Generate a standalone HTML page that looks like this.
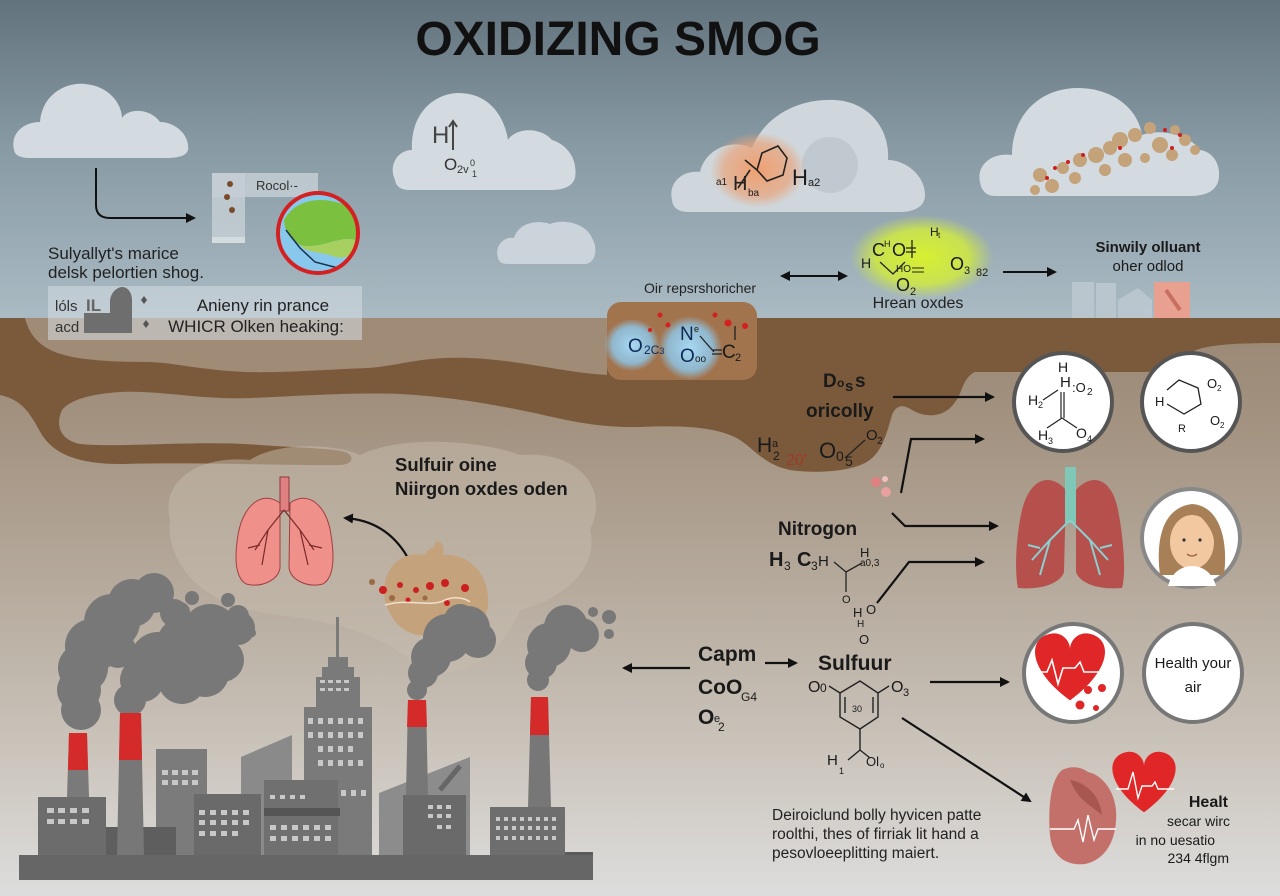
<!DOCTYPE html>
<html><head><meta charset="utf-8"><style>
html,body{margin:0;padding:0;width:1280px;height:896px;overflow:hidden;background:#aaa}
svg{display:block}
text{font-family:"Liberation Sans",Arial,sans-serif;fill:#1a1a1a}
.b{font-weight:bold}
</style></head><body>
<svg width="1280" height="896" viewBox="0 0 1280 896" xmlns="http://www.w3.org/2000/svg">
<defs>
<linearGradient id="sky" x1="0" y1="0" x2="0" y2="1">
<stop offset="0" stop-color="#62737d"/><stop offset="0.45" stop-color="#8799a3"/><stop offset="1" stop-color="#aabbc4"/>
</linearGradient>
<linearGradient id="gnd" x1="0" y1="0" x2="0" y2="1">
<stop offset="0" stop-color="#9a8774"/><stop offset="0.18" stop-color="#a39280"/><stop offset="0.5" stop-color="#b8ada0"/><stop offset="0.78" stop-color="#cdc7bf"/><stop offset="1" stop-color="#dddddd"/>
</linearGradient>
<radialGradient id="org" cx="0.5" cy="0.5" r="0.5"><stop offset="0" stop-color="#f0a070"/><stop offset="0.7" stop-color="#e8a47c" stop-opacity="0.7"/><stop offset="1" stop-color="#e8a47c" stop-opacity="0"/></radialGradient>
<radialGradient id="ylw" cx="0.5" cy="0.5" r="0.5"><stop offset="0" stop-color="#d8f030"/><stop offset="0.65" stop-color="#d0ea40" stop-opacity="0.85"/><stop offset="1" stop-color="#c8e050" stop-opacity="0"/></radialGradient>
<radialGradient id="blu" cx="0.5" cy="0.5" r="0.5"><stop offset="0" stop-color="#a8d8f4"/><stop offset="0.7" stop-color="#8cc8ec" stop-opacity="0.8"/><stop offset="1" stop-color="#8cc8ec" stop-opacity="0"/></radialGradient>
<marker id="ah" markerWidth="10" markerHeight="10" refX="8" refY="5" orient="auto" markerUnits="userSpaceOnUse"><path d="M0,0 L10,5 L0,10 Z" fill="#111"/></marker>
<marker id="ah2" markerWidth="10" markerHeight="10" refX="8" refY="5" orient="auto-start-reverse" markerUnits="userSpaceOnUse"><path d="M0,0 L10,5 L0,10 Z" fill="#111"/></marker>
</defs>

<!-- backgrounds -->
<rect x="0" y="0" width="1280" height="320" fill="url(#sky)"/>
<rect x="0" y="318" width="1280" height="578" fill="url(#gnd)"/>

<!-- brown band -->
<path d="M0,318 H1280 V343 C1215,343 1192,347 1186,358 C1180,370 1165,372 1140,372 L975,372 C962,378 962,395 955,402 C945,418 925,418 912,410 C903,404 896,405 892,415 C885,440 880,455 865,463 C845,473 810,473 790,470 C765,465 755,450 740,440 C720,428 690,425 640,427 C590,428 560,418 520,410 C480,402 440,396 400,394 C350,392 300,396 250,398 C200,400 160,390 120,392 C90,394 70,400 62,410 C55,425 60,440 80,444 C120,448 200,440 260,445 C300,448 330,448 345,452 C356,456 352,465 340,465 C300,466 200,462 120,464 C80,464 55,455 42,435 C32,418 25,400 0,395 Z" fill="#7b5a3c"/>
<path d="M25,318 H607 V375 C560,372 520,360 470,358 C420,356 400,366 367,368 C320,370 280,373 245,372 C200,370 170,362 147,362 C110,362 75,360 55,352 C35,344 28,330 25,318 Z" fill="#a08b76"/>
<!-- haze cloud behind lungs -->
<path d="M170,520 C160,480 200,455 250,460 C280,440 340,445 360,455 C400,435 480,440 520,455 C580,450 610,490 590,530 C600,570 560,600 520,610 C500,660 450,690 410,660 C360,620 300,620 250,610 C200,600 165,560 170,520 Z" fill="#c6bbae" opacity="0.5"/>

<!-- title -->
<text x="618" y="55" text-anchor="middle" class="b" font-size="48" style="fill:#111">OXIDIZING SMOG</text>

<!-- clouds -->
<g fill="#d3dbe0">
<path d="M14,150 C10,132 25,122 40,122 C42,95 65,82 85,84 C110,86 122,105 122,118 C128,108 150,108 160,122 C175,122 190,135 188,150 C186,157 175,158 165,158 H30 C20,158 15,155 14,150 Z"/>
<path d="M395,180 C388,165 398,150 412,150 C410,118 430,94 458,93 C492,93 505,120 508,140 C515,128 540,126 552,140 C568,145 578,160 575,178 C572,188 560,190 550,190 H410 C400,190 396,186 395,180 Z"/>
<path d="M498,258 C494,245 505,236 514,238 C518,224 535,219 550,224 C562,219 585,222 592,238 C598,248 596,262 586,264 H508 C502,264 499,262 498,258 Z" fill="#cbd4da"/>
<path d="M672,200 C668,183 682,170 700,172 C705,150 730,138 752,148 C765,115 800,98 835,100 C870,102 890,130 888,160 C905,160 925,175 925,195 C925,208 912,212 900,212 H690 C678,212 673,208 672,200 Z" fill="#cfd7dc"/>
<path d="M980,182 C976,165 992,152 1012,155 C1012,115 1040,88 1078,88 C1112,88 1138,108 1142,135 C1160,128 1190,135 1200,150 C1215,152 1222,168 1218,182 C1214,194 1200,196 1190,196 H995 C986,196 981,190 980,182 Z"/>
</g>
<!-- cloud 2 contents -->
<text x="432" y="143" font-size="24" style="fill:#444">H</text>
<path d="M453,150 V122 M449,127 L453,121 L457,127" stroke="#444" stroke-width="2" fill="none"/>
<text x="444" y="170" font-size="17" style="fill:#333">O</text><text x="457" y="173" font-size="11" style="fill:#333">2v</text><text x="470" y="166" font-size="9" style="fill:#333">0</text><text x="472" y="177" font-size="9" style="fill:#333">1</text>
<!-- benzene cloud -->
<ellipse cx="758" cy="170" rx="48" ry="38" fill="url(#org)"/>
<circle cx="830" cy="165" r="28" fill="#b6c0c6" opacity="0.6"/>
<g stroke="#222" stroke-width="1.6" fill="none">
<path d="M762,153 L778,146 L787,158 L783,175 L767,181 L757,170 Z"/>
<path d="M750,170 L738,188 M745,160 L757,170"/>
</g>
<text x="733" y="190" font-size="20" style="fill:#222">H</text><text x="748" y="196" font-size="10">ba</text>
<text x="716" y="185" font-size="10">a1</text>
<text x="792" y="185" font-size="22">H</text><text x="808" y="186" font-size="11">a2</text>
<!-- particle cloud -->
<g fill="#c4a27a">
<circle cx="1040" cy="175" r="7"/><circle cx="1052" cy="186" r="7"/><circle cx="1063" cy="168" r="6"/><circle cx="1080" cy="160" r="7"/><circle cx="1096" cy="155" r="8"/><circle cx="1110" cy="148" r="7"/><circle cx="1120" cy="140" r="8"/><circle cx="1135" cy="135" r="7"/><circle cx="1150" cy="128" r="6"/><circle cx="1175" cy="130" r="5"/><circle cx="1185" cy="140" r="6"/><circle cx="1195" cy="150" r="5"/><circle cx="1105" cy="170" r="6"/><circle cx="1125" cy="160" r="7"/><circle cx="1160" cy="145" r="8"/><circle cx="1172" cy="155" r="6"/><circle cx="1145" cy="158" r="5"/><circle cx="1075" cy="178" r="6"/><circle cx="1035" cy="190" r="5"/>
</g>
<g fill="#cc2020"><circle cx="1055" cy="168" r="2"/><circle cx="1068" cy="162" r="2"/><circle cx="1083" cy="155" r="2"/><circle cx="1120" cy="148" r="2"/><circle cx="1165" cy="130" r="2"/><circle cx="1172" cy="148" r="2"/><circle cx="1180" cy="135" r="2"/><circle cx="1047" cy="178" r="2"/></g>

<!-- top-left arrow and panel -->
<path d="M96,168 V205 Q96,218 110,218 H194" stroke="#111" stroke-width="2" fill="none" marker-end="url(#ah)"/>
<rect x="212" y="173" width="106" height="24" fill="#c4ced4" opacity="0.85"/>
<rect x="212" y="173" width="33" height="70" fill="#c4ced4" opacity="0.85"/>
<rect x="212" y="237" width="33" height="6" fill="#d4dce0"/>
<text x="256" y="190" font-size="13" style="fill:#333">Rocol·-</text>
<circle cx="230" cy="184" r="3" fill="#7a4a2a"/><circle cx="227" cy="197" r="3" fill="#7a4a2a"/><circle cx="232" cy="210" r="3" fill="#7a4a2a"/>
<!-- red globe -->
<circle cx="318" cy="233" r="40" fill="#88c8ec"/>
<path d="M284,220 C295,200 320,195 345,205 C358,215 360,230 355,240 C340,235 320,250 300,245 C292,240 285,235 284,220 Z" fill="#7cc040"/>
<path d="M300,245 C320,250 340,235 355,240 C356,255 345,262 330,255 C318,252 305,252 300,245 Z" fill="#a8d060"/>
<path d="M286,230 L300,248 L315,262 L338,268" stroke="#1a3050" stroke-width="1.5" fill="none"/>
<circle cx="318" cy="233" r="40" fill="none" stroke="#d42020" stroke-width="4"/>

<text x="48" y="259" font-size="17" style="fill:#222">Sulyallyt's marice</text>
<text x="48" y="278" font-size="17" style="fill:#222">delsk pelortien shog.</text>
<rect x="48" y="286" width="314" height="54" fill="#d6dde1" opacity="0.55"/>
<text x="55" y="311" font-size="15" style="fill:#333">lóls</text>
<text x="55" y="332" font-size="15" style="fill:#333">acd</text>
<text x="86" y="311" class="b" font-size="17" style="fill:#666">IL</text>
<path d="M84,313 H110 V302 C110,292 118,287 122,287 C128,287 132,293 132,300 V333 H84 Z" fill="#6e6e6e"/>
<path d="M144,296 l3,4 -3,4 -3,-4 z M146,320 l3,4 -3,4 -3,-4 z" fill="#555"/>
<text x="263" y="311" text-anchor="middle" font-size="17" style="fill:#222">Anieny rin prance</text>
<text x="256" y="332" text-anchor="middle" font-size="17" style="fill:#222">WHICR Olken heaking:</text>

<!-- molecule blob center -->
<rect x="607" y="302" width="150" height="78" rx="14" fill="#a2744e"/>
<ellipse cx="632" cy="345" rx="28" ry="26" fill="url(#blu)"/>
<ellipse cx="690" cy="348" rx="32" ry="32" fill="url(#blu)"/>
<g fill="#d42020"><circle cx="660" cy="315" r="2.5"/><circle cx="668" cy="325" r="2.5"/><circle cx="715" cy="315" r="2.5"/><circle cx="728" cy="323" r="3.5"/><circle cx="745" cy="326" r="3"/><circle cx="650" cy="330" r="2"/></g>
<text x="628" y="352" font-size="19" style="fill:#0d2a55">O</text><text x="644" y="354" font-size="12" style="fill:#0d2a55">2C<tspan font-size="9">3</tspan></text>
<text x="680" y="340" font-size="19" style="fill:#0d2a55">N</text><text x="694" y="332" font-size="9">e</text>
<text x="680" y="362" font-size="19" style="fill:#0d2a55">O</text><text x="695" y="362" font-size="10">oo</text>
<path d="M700,336 L714,352 M712,350 H722 M712,354 H722 M735,326 V340" stroke="#222" stroke-width="1.3"/>
<text x="722" y="358" font-size="19">C</text><text x="735" y="361" font-size="11">2</text>
<text x="700" y="293" text-anchor="middle" font-size="14" style="fill:#222">Oir repsrshoricher</text>

<!-- double arrow and yellow molecule -->
<line x1="782" y1="276" x2="846" y2="276" stroke="#111" stroke-width="2" marker-start="url(#ah2)" marker-end="url(#ah)"/>
<ellipse cx="922" cy="257" rx="72" ry="42" fill="url(#ylw)"/>
<text x="861" y="268" font-size="14">H</text><text x="872" y="256" font-size="18">C</text><text x="884" y="247" font-size="9">H</text>
<text x="892" y="256" font-size="18">O</text><path d="M906,248 H916 M906,252 H916 M912,240 V258 M880,262 L893,274 L905,262" stroke="#222" stroke-width="1.3" fill="none"/>
<text x="930" y="236" font-size="12">H</text><text x="938" y="238" font-size="8">t</text>
<text x="896" y="272" font-size="10">HO</text><path d="M912,268 H924 M912,272 H924" stroke="#222" stroke-width="1"/>
<text x="950" y="270" font-size="18">O</text><text x="964" y="274" font-size="11">3</text><text x="976" y="276" font-size="11">82</text>
<text x="896" y="291" font-size="18">O</text><text x="910" y="295" font-size="11">2</text>
<text x="918" y="308" text-anchor="middle" font-size="16" style="fill:#222">Hrean oxdes</text>
<line x1="1003" y1="272" x2="1055" y2="272" stroke="#111" stroke-width="2" marker-end="url(#ah)"/>
<text x="1148" y="252" text-anchor="middle" class="b" font-size="15">Sinwily olluant</text>
<text x="1148" y="271" text-anchor="middle" font-size="15">oher odlod</text>
<g fill="#bcc8cf" opacity="0.9">
<rect x="1072" y="282" width="22" height="36"/><rect x="1096" y="283" width="20" height="35"/><path d="M1118,318 V300 L1138,288 L1152,300 V318 Z"/>
</g>
<rect x="1154" y="282" width="36" height="36" fill="#e8a090"/>
<path d="M1166,290 L1180,310" stroke="#c87060" stroke-width="4"/>

<!-- right chem text -->
<text x="823" y="387" class="b" font-size="19">D</text><text x="837" y="387" class="b" font-size="12">o</text><text x="845" y="391" class="b" font-size="15">s</text><text x="855" y="387" class="b" font-size="19">s</text>
<text x="806" y="417" class="b" font-size="19">oricolly</text>
<text x="757" y="452" font-size="21">H</text><text x="772" y="447" font-size="11">a</text><text x="773" y="460" font-size="12">2</text>
<text x="786" y="465" font-size="16" style="fill:#a03a2a">20'</text>
<text x="819" y="458" font-size="22">O</text><text x="836" y="461" font-size="14">0</text><text x="845" y="466" font-size="14">5</text>
<path d="M845,458 L865,440" stroke="#222" stroke-width="1.3"/>
<text x="866" y="440" font-size="15">O</text><text x="877" y="444" font-size="10">2</text>
<line x1="893" y1="397" x2="993" y2="397" stroke="#111" stroke-width="2.2" marker-end="url(#ah)"/>
<path d="M901,493 L911,439 H983" stroke="#111" stroke-width="2.2" fill="none" marker-end="url(#ah)"/>
<circle cx="876" cy="482" r="5" fill="#e08080"/><circle cx="886" cy="492" r="5" fill="#e8a0a0"/><circle cx="885" cy="479" r="3" fill="#f0c0c0"/>
<path d="M892,513 L905,526 H997" stroke="#111" stroke-width="2.2" fill="none" marker-end="url(#ah)"/>
<text x="778" y="535" class="b" font-size="19">Nitrogon</text>
<text x="769" y="566" class="b" font-size="20">H</text><text x="784" y="570" font-size="12">3</text>
<text x="797" y="566" class="b" font-size="20">C</text><text x="811" y="570" font-size="12">3</text><text x="818" y="566" font-size="15">H</text>
<path d="M834,562 L846,572 L862,563 M846,572 V592" stroke="#222" stroke-width="1.3" fill="none"/>
<text x="860" y="557" font-size="13">H</text><text x="860" y="566" font-size="10">a0,3</text>
<text x="842" y="603" font-size="11">O</text>
<text x="853" y="617" font-size="13">H</text><text x="866" y="614" font-size="13">O</text><text x="857" y="627" font-size="10">H</text>
<text x="859" y="644" font-size="13">O</text>
<path d="M877,603 L909,562 H983" stroke="#111" stroke-width="2.2" fill="none" marker-end="url(#ah)"/>

<!-- circles right -->
<g stroke-width="4">
<circle cx="1063" cy="402" r="49" fill="#fff" stroke="#555"/>
<circle cx="1191" cy="402" r="49" fill="#fff" stroke="#555"/>
<circle cx="1191" cy="538" r="49" fill="#fff" stroke="#888"/>
<circle cx="1073" cy="673" r="49" fill="#fff" stroke="#777"/>
<circle cx="1193" cy="673" r="49" fill="#fff" stroke="#777"/>
</g>
<text x="1058" y="372" font-size="14">H</text><text x="1060" y="387" font-size="15">H</text><text x="1072" y="392" font-size="13">:O</text><text x="1087" y="395" font-size="10">2</text>
<text x="1028" y="405" font-size="14">H</text><text x="1038" y="408" font-size="9">2</text>
<path d="M1043,400 L1058,390 M1061,392 V418 M1064,392 V418 M1062,418 L1047,428 M1062,418 L1077,428" stroke="#222" stroke-width="1.2" fill="none"/>
<text x="1038" y="440" font-size="14">H</text><text x="1048" y="444" font-size="9">3</text>
<text x="1076" y="438" font-size="14">O</text><text x="1087" y="442" font-size="9">4</text>
<path d="M1167,390 L1179,380 L1198,388 L1201,404 L1184,414 L1167,404" stroke="#222" stroke-width="1.3" fill="none"/>
<text x="1155" y="406" font-size="13">H</text>
<text x="1207" y="388" font-size="13">O</text><text x="1217" y="391" font-size="8">2</text>
<text x="1210" y="425" font-size="13">O</text><text x="1220" y="428" font-size="8">2</text>
<text x="1178" y="432" font-size="11">R</text>
<!-- face -->
<path d="M1160,575 C1156,545 1160,508 1192,504 C1222,506 1228,545 1224,575 Z" fill="#a88058"/>
<ellipse cx="1192" cy="542" rx="22" ry="27" fill="#f2c8a0"/>
<path d="M1170,535 C1172,514 1184,510 1196,512 C1204,520 1212,528 1214,540 C1215,520 1208,508 1192,506 C1175,508 1168,520 1170,535 Z" fill="#a88058"/>
<path d="M1168,586 C1172,572 1182,566 1192,566 C1202,566 1212,572 1216,586 Z" fill="#fff"/>
<circle cx="1184" cy="540" r="1.6" fill="#333"/><circle cx="1200" cy="540" r="1.6" fill="#333"/>
<path d="M1187,554 Q1192,558 1197,554" stroke="#9a5a40" stroke-width="1.2" fill="none"/>
<!-- right lungs -->
<path d="M1066,490 C1050,472 1030,478 1022,510 C1015,540 1015,575 1018,588 C1040,590 1060,584 1064,572 Z" fill="#b5504d"/>
<path d="M1076,490 C1092,472 1112,478 1118,510 C1124,540 1126,575 1122,588 C1100,590 1080,584 1076,572 Z" fill="#b5504d"/>
<rect x="1065" y="467" width="11" height="56" fill="#7fc8b8"/>
<path d="M1070,520 L1050,540 L1032,560 M1050,540 L1040,575 M1070,520 L1090,540 L1108,560 M1090,540 L1100,575 M1040,548 L1028,545 M1100,548 L1112,545" stroke="#8ccfd0" stroke-width="2" fill="none"/>
<!-- heart circle -->
<path transform="translate(1070,668) scale(1.35)" d="M0,24 C-30,2 -32,-20 -16,-25 C-6,-28 0,-20 0,-14 C0,-20 6,-28 16,-25 C32,-20 30,2 0,24 Z" fill="#e02626"/>
<path d="M1030,672 H1047 L1052,660 L1058,684 L1063,668 H1075 L1080,662 L1084,672 H1112" stroke="#fff" stroke-width="1.6" fill="none"/>
<g fill="#e02626"><circle cx="1088" cy="690" r="4"/><circle cx="1102" cy="688" r="4"/><circle cx="1080" cy="705" r="4.5"/><circle cx="1096" cy="708" r="3"/></g>
<text x="1193" y="668" text-anchor="middle" font-size="15">Health your</text>
<text x="1193" y="692" text-anchor="middle" font-size="15">air</text>
<line x1="930" y1="682" x2="1008" y2="682" stroke="#111" stroke-width="2.2" marker-end="url(#ah)"/>
<line x1="902" y1="718" x2="1030" y2="801" stroke="#111" stroke-width="2.2" marker-end="url(#ah)"/>

<!-- bottom right hearts -->
<path d="M1062,770 C1050,780 1048,810 1050,835 C1052,858 1068,866 1085,864 C1105,860 1118,840 1116,810 C1114,790 1102,775 1088,772 C1080,766 1070,766 1062,770 Z" fill="#c4706a"/>
<path d="M1070,780 C1085,782 1100,795 1102,815 C1090,805 1078,800 1070,780 Z" fill="#a85650"/>
<path d="M1050,829 H1074 L1078,820 L1083,842 L1088,815 L1094,840 L1098,829 H1116" stroke="#fff" stroke-width="1.4" fill="none"/>
<path transform="translate(1144,783) scale(1.22)" d="M0,24 C-30,2 -32,-20 -16,-25 C-6,-28 0,-20 0,-14 C0,-20 6,-28 16,-25 C32,-20 30,2 0,24 Z" fill="#e02626"/>
<path d="M1116,789 H1128 L1133,772 L1138,798 L1142,786 H1152 L1155,782 L1158,789 H1174" stroke="#fff" stroke-width="1.4" fill="none"/>
<text x="1228" y="807" text-anchor="end" class="b" font-size="16">Healt</text>
<text x="1230" y="826" text-anchor="end" font-size="14">secar wirc</text>
<text x="1215" y="845" text-anchor="end" font-size="14">in no uesatio</text>
<text x="1229" y="863" text-anchor="end" font-size="14">234 4flgm</text>

<!-- capm / sulfuur -->
<line x1="690" y1="668" x2="624" y2="668" stroke="#111" stroke-width="2.2" marker-end="url(#ah)"/>
<text x="698" y="661" class="b" font-size="21">Capm</text>
<line x1="765" y1="663" x2="796" y2="663" stroke="#111" stroke-width="2.2" marker-end="url(#ah)"/>
<text x="698" y="694" class="b" font-size="21">CoO</text><text x="741" y="701" font-size="12">G4</text>
<text x="698" y="724" class="b" font-size="21">O</text><text x="714" y="722" font-size="11">e</text><text x="718" y="731" font-size="12">2</text>
<text x="818" y="670" class="b" font-size="21">Sulfuur</text>
<text x="808" y="692" font-size="16">O</text><text x="820" y="692" font-size="12">0</text>
<text x="891" y="692" font-size="16">O</text><text x="903" y="696" font-size="11">3</text>
<path d="M840,693 L860,681 L878,693 V717 L860,729 L840,717 Z M845,697 V713 M873,697 V713 M829,686 L840,693 M878,693 L889,686 M860,729 V750 L848,760 M860,750 L870,758" stroke="#222" stroke-width="1.4" fill="none"/>
<text x="852" y="712" font-size="9">30</text>
<text x="827" y="765" font-size="15">H</text><text x="839" y="774" font-size="9">1</text>
<text x="866" y="766" font-size="13">Ol</text><text x="880" y="768" font-size="8">o</text>

<text x="772" y="820" font-size="15.5" style="fill:#222">Deiroiclund bolly hyvicen patte</text>
<text x="772" y="839" font-size="15.5" style="fill:#222">roolthi, thes of firriak lit hand a</text>
<text x="772" y="858" font-size="15.5" style="fill:#222">pesovloeeplitting maiert.</text>

<!-- sulfur text and left lungs -->
<text x="395" y="471" class="b" font-size="18.5">Sulfuir oine</text>
<text x="395" y="495" class="b" font-size="18.5">Niirgon oxdes oden</text>
<path d="M280,503 C262,490 243,505 238,535 C234,560 236,578 246,584 C262,588 278,580 280,568 Z" fill="#f0908a" stroke="#a04040" stroke-width="1"/>
<path d="M290,503 C308,490 327,505 331,535 C335,560 333,578 323,584 C307,588 291,580 289,568 Z" fill="#f0908a" stroke="#a04040" stroke-width="1"/>
<rect x="280" y="477" width="9" height="34" fill="#e08080" stroke="#8a3a3a" stroke-width="1"/>
<path d="M284,510 L268,530 L255,550 M268,530 L262,565 M284,510 L300,530 L314,550 M300,530 L308,565 M260,545 L248,548 M309,545 L322,548" stroke="#7a2a2a" stroke-width="1.2" fill="none"/>
<path d="M408,558 C395,535 375,520 345,518" stroke="#111" stroke-width="2.2" fill="none" marker-end="url(#ah)"/>
<!-- brown lungs with particles -->
<path d="M385,600 C380,570 400,550 425,555 C430,545 438,545 440,555 C470,552 490,575 488,605 C486,630 465,640 445,630 C430,640 395,640 385,600 Z" fill="#c4a27c"/>
<path d="M436,542 C433,545 433,552 436,558 L442,558 C444,552 444,545 440,542 Z" fill="#c4a27c"/>
<g fill="#cc2020"><circle cx="383" cy="590" r="4"/><circle cx="400" cy="585" r="3"/><circle cx="416" cy="590" r="3"/><circle cx="430" cy="586" r="4"/><circle cx="445" cy="583" r="4"/><circle cx="465" cy="588" r="4"/><circle cx="447" cy="603" r="3"/><circle cx="441" cy="629" r="3.5"/><circle cx="449" cy="631" r="3.5"/><circle cx="408" cy="600" r="2.5"/></g>
<g fill="#9a6a42"><circle cx="372" cy="582" r="3"/><circle cx="392" cy="598" r="3"/><circle cx="425" cy="598" r="2.5"/></g>
<path d="M385,605 C410,598 430,608 445,600 C455,596 465,598 470,602" stroke="#f2e0c8" stroke-width="1.5" fill="none"/>

<!-- smoke -->
<g fill="#787878">
<circle cx="81" cy="710" r="20"/><circle cx="79" cy="690" r="22"/><circle cx="83" cy="668" r="25"/><circle cx="92" cy="646" r="27"/><circle cx="112" cy="622" r="28"/><circle cx="132" cy="603" r="24"/><circle cx="154" cy="593" r="20"/><circle cx="174" cy="613" r="14"/><circle cx="180" cy="612" r="10"/><circle cx="192" cy="598" r="7"/><circle cx="228" cy="600" r="7"/><circle cx="213" cy="611" r="4"/>
<circle cx="130" cy="700" r="16"/><circle cx="142" cy="680" r="22"/><circle cx="158" cy="660" r="28"/><circle cx="186" cy="646" r="30"/><circle cx="210" cy="632" r="28"/><circle cx="222" cy="660" r="22"/><circle cx="238" cy="628" r="17"/><circle cx="238" cy="616" r="11"/><circle cx="252" cy="633" r="4"/><circle cx="182" cy="680" r="24"/><circle cx="205" cy="673" r="24"/><circle cx="118" cy="650" r="18"/>
<circle cx="417" cy="690" r="10"/><circle cx="423" cy="673" r="15"/><circle cx="431" cy="657" r="20"/><circle cx="447" cy="638" r="24"/><circle cx="468" cy="628" r="22"/><circle cx="478" cy="640" r="18"/><circle cx="460" cy="620" r="16"/>
<circle cx="538" cy="680" r="11"/><circle cx="541" cy="663" r="16"/><circle cx="549" cy="645" r="22"/><circle cx="566" cy="627" r="22"/><circle cx="582" cy="635" r="17"/><circle cx="593" cy="612" r="5"/><circle cx="609" cy="617" r="7"/><circle cx="609" cy="634" r="5"/>
</g>

<!-- buildings -->
<g>
<polygon points="241,757 292,735 292,855 241,855" fill="#8a8a8a"/>
<polygon points="379,793 470,757 470,855 379,855" fill="#8c8c8c"/>
<rect x="156" y="749" width="51" height="106" fill="#7b7b7b"/>
<rect x="38" y="797" width="68" height="58" fill="#6c6c6c"/>
<rect x="106" y="827" width="70" height="28" fill="#5e5e5e"/>
<rect x="194" y="794" width="67" height="61" fill="#6a6a6a"/>
<rect x="304" y="707" width="68" height="148" fill="#7a7a7a"/>
<rect x="316" y="677" width="44" height="30" fill="#7a7a7a"/>
<rect x="322" y="667" width="32" height="10" fill="#7a7a7a"/>
<rect x="328" y="657" width="20" height="10" fill="#7a7a7a"/>
<rect x="336" y="617" width="3" height="40" fill="#7a7a7a"/>
<rect x="264" y="780" width="74" height="75" fill="#707070"/>
<rect x="264" y="808" width="76" height="8" fill="#555"/>
<rect x="403" y="795" width="63" height="60" fill="#6a6a6a"/>
<rect x="490" y="807" width="75" height="48" fill="#6e6e6e"/>
<rect x="565" y="852" width="28" height="3" fill="#5a5a5a"/>
<rect x="19" y="855" width="574" height="25" fill="#666"/>
<!-- chimneys -->
<polygon points="69,733 87,733 89,797 67,797" fill="#7a7a7a"/><polygon points="69,733 87,733 88,770 68,770" fill="#d42a2a"/>
<polygon points="120,713 141,713 144,855 117,855" fill="#777"/><polygon points="120,713 141,713 142,760 119,760" fill="#d42a2a"/>
<polygon points="408,700 426,700 428,795 406,795" fill="#777"/><polygon points="408,700 426,700 427,727 407,727" fill="#d42a2a"/>
<polygon points="531,697 548,697 551,807 528,807" fill="#777"/><polygon points="531,697 548,697 549,735 530,735" fill="#d42a2a"/>
<path d="M440,790 L460,766" stroke="#666" stroke-width="5"/>
<!-- windows -->
<g fill="#c8c8c8">
<rect x="47" y="808" width="7" height="5"/><rect x="58" y="808" width="7" height="5"/><rect x="70" y="808" width="7" height="5"/><rect x="82" y="808" width="7" height="5"/>
<rect x="47" y="819" width="7" height="5"/><rect x="58" y="819" width="7" height="5"/><rect x="70" y="819" width="7" height="5"/><rect x="82" y="819" width="7" height="5"/>
<rect x="162" y="770" width="6" height="5"/><rect x="172" y="770" width="6" height="5"/><rect x="182" y="770" width="6" height="5"/><rect x="192" y="770" width="6" height="5"/>
<rect x="162" y="780" width="6" height="5"/><rect x="172" y="780" width="6" height="5"/><rect x="182" y="780" width="6" height="5"/><rect x="192" y="780" width="6" height="5"/>
<rect x="199" y="810" width="6" height="5"/><rect x="210" y="810" width="6" height="5"/><rect x="221" y="810" width="6" height="5"/><rect x="232" y="810" width="6" height="5"/><rect x="243" y="810" width="6" height="5"/>
<rect x="199" y="820" width="6" height="5"/><rect x="210" y="820" width="6" height="5"/><rect x="221" y="820" width="6" height="5"/><rect x="232" y="820" width="6" height="5"/><rect x="243" y="820" width="6" height="5"/>
<rect x="199" y="831" width="6" height="5"/><rect x="210" y="831" width="6" height="5"/><rect x="221" y="831" width="6" height="5"/><rect x="232" y="831" width="6" height="5"/>
<rect x="270" y="825" width="6" height="5"/><rect x="281" y="825" width="6" height="5"/><rect x="292" y="825" width="6" height="5"/><rect x="303" y="825" width="6" height="5"/><rect x="314" y="825" width="6" height="5"/><rect x="325" y="825" width="6" height="5"/>
<rect x="270" y="836" width="6" height="5"/><rect x="281" y="836" width="6" height="5"/><rect x="292" y="836" width="6" height="5"/><rect x="303" y="836" width="6" height="5"/><rect x="314" y="836" width="6" height="5"/><rect x="325" y="836" width="6" height="5"/>
<rect x="270" y="795" width="5" height="4"/><rect x="280" y="795" width="5" height="4"/><rect x="290" y="795" width="5" height="4"/><rect x="300" y="795" width="5" height="4"/>
<rect x="320" y="680" width="5" height="3"/><rect x="328" y="680" width="5" height="3"/><rect x="336" y="680" width="5" height="3"/><rect x="344" y="680" width="5" height="3"/>
<rect x="320" y="688" width="5" height="3"/><rect x="328" y="688" width="5" height="3"/><rect x="336" y="688" width="5" height="3"/><rect x="344" y="688" width="5" height="3"/>
<rect x="308" y="718" width="5" height="6"/><rect x="318" y="718" width="5" height="6"/><rect x="328" y="718" width="5" height="6"/><rect x="338" y="718" width="5" height="6"/><rect x="348" y="718" width="5" height="6"/><rect x="358" y="718" width="5" height="6"/>
<rect x="308" y="732" width="5" height="6"/><rect x="318" y="732" width="5" height="6"/><rect x="328" y="732" width="5" height="6"/><rect x="338" y="732" width="5" height="6"/><rect x="348" y="732" width="5" height="6"/><rect x="358" y="732" width="5" height="6"/>
<rect x="318" y="746" width="5" height="6"/><rect x="328" y="746" width="5" height="6"/><rect x="338" y="746" width="5" height="6"/><rect x="348" y="746" width="5" height="6"/>
<rect x="318" y="760" width="5" height="6"/><rect x="328" y="760" width="5" height="6"/><rect x="338" y="760" width="5" height="6"/><rect x="348" y="760" width="5" height="6"/><rect x="358" y="760" width="5" height="6"/>
<rect x="341" y="790" width="5" height="6"/><rect x="351" y="790" width="5" height="6"/><rect x="361" y="790" width="5" height="6"/>
<rect x="428" y="805" width="5" height="4"/><rect x="437" y="805" width="5" height="4"/><rect x="446" y="805" width="5" height="4"/>
<rect x="428" y="814" width="5" height="4"/><rect x="437" y="814" width="5" height="4"/><rect x="446" y="814" width="5" height="4"/>
<rect x="437" y="825" width="5" height="4"/><rect x="446" y="825" width="5" height="4"/>
<rect x="496" y="817" width="4" height="4"/><rect x="504" y="817" width="4" height="4"/><rect x="512" y="817" width="4" height="4"/><rect x="520" y="817" width="4" height="4"/><rect x="528" y="817" width="4" height="4"/><rect x="536" y="817" width="4" height="4"/><rect x="544" y="817" width="4" height="4"/><rect x="552" y="817" width="4" height="4"/>
<rect x="496" y="826" width="4" height="4"/><rect x="504" y="826" width="4" height="4"/><rect x="512" y="826" width="4" height="4"/><rect x="520" y="826" width="4" height="4"/><rect x="528" y="826" width="4" height="4"/><rect x="536" y="826" width="4" height="4"/><rect x="544" y="826" width="4" height="4"/><rect x="552" y="826" width="4" height="4"/>
<rect x="496" y="836" width="4" height="4"/><rect x="504" y="836" width="4" height="4"/><rect x="512" y="836" width="4" height="4"/><rect x="520" y="836" width="4" height="4"/><rect x="528" y="836" width="4" height="4"/><rect x="536" y="836" width="4" height="4"/><rect x="544" y="836" width="4" height="4"/><rect x="552" y="836" width="4" height="4"/>
</g>
</g>
</svg>
</body></html>
